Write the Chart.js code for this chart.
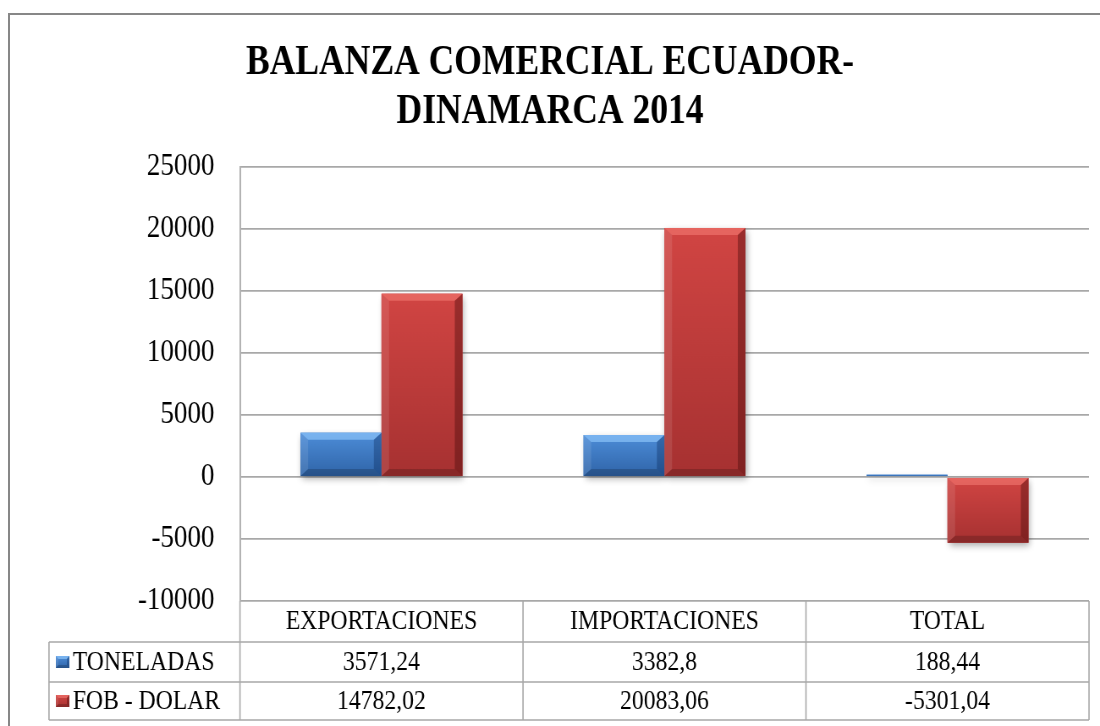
<!DOCTYPE html>
<html>
<head>
<meta charset="utf-8">
<script src="https://cdn.jsdelivr.net/npm/chart.js@4/dist/chart.umd.min.js"></script>
<style>
  html, body { margin: 0; padding: 0; background: #ffffff; overflow: hidden; width: 1100px; height: 726px; }
  #wrap { position: relative; width: 1100px; height: 726px; overflow: hidden; background: #ffffff; }
  #c { display: block; position: absolute; left: 0; top: 0; width: 1100px; height: 726px; }
  #frame { position: absolute; left: 8px; top: 13px; width: 1300px; height: 900px;
           border-top: 2px solid #878787; border-left: 2px solid #878787; pointer-events: none; }
</style>
</head>
<body>
<div id="wrap">
<canvas id="c" width="1300" height="726" style="width:1100px;height:726px;"></canvas>
<div id="frame"></div>
</div>
<script>
// ---- data ----
const titleLines = ['BALANZA COMERCIAL ECUADOR-', 'DINAMARCA 2014'];
const categories = ['EXPORTACIONES', 'IMPORTACIONES', 'TOTAL'];
const seriesNames = ['TONELADAS', 'FOB - DOLAR'];
const toneladas = [3571.24, 3382.8, 188.44];
const fobDolar = [14782.02, 20083.06, -5301.04];
const yMin = -10000;
const yMax = 25000;
const yStep = 5000;

// ---- styles ----
const serif = '"Liberation Serif", "Times New Roman", serif';
const gridColor = '#a8a8a8';
const palettes = [
  { base: '#3c78c2', top: '#4d8dd8', bottom: '#2f64a8', hi: 'rgba(150,205,255,0.6)', lo: 'rgba(10,40,90,0.35)' },
  { base: '#c0393b', top: '#d14543', bottom: '#a63131', hi: 'rgba(255,140,130,0.45)', lo: 'rgba(70,10,10,0.40)' }
];

function fmt(v) { return String(v).replace('.', ','); }

function drawBevelBox(ctx, L, T, R, B, pal, bx, by) {
  const g = ctx.createLinearGradient(0, T, 0, B);
  g.addColorStop(0, pal.top);
  g.addColorStop(1, pal.bottom);
  ctx.fillStyle = g;
  ctx.fillRect(L, T, R - L, B - T);
  const h = B - T, w = R - L;
  by = Math.min(by, h / 2.2);
  bx = Math.min(bx, w / 2.2);
  if (h < 3) return;
  ctx.fillStyle = pal.hi;
  ctx.beginPath();
  ctx.moveTo(L, T); ctx.lineTo(R, T); ctx.lineTo(R - bx, T + by); ctx.lineTo(L + bx, T + by); ctx.closePath(); ctx.fill();
  ctx.fillStyle = 'rgba(255,255,255,0.10)';
  ctx.beginPath();
  ctx.moveTo(L, T); ctx.lineTo(L + bx, T + by); ctx.lineTo(L + bx, B - by); ctx.lineTo(L, B); ctx.closePath(); ctx.fill();
  ctx.fillStyle = pal.lo;
  ctx.beginPath();
  ctx.moveTo(R, T); ctx.lineTo(R, B); ctx.lineTo(R - bx, B - by); ctx.lineTo(R - bx, T + by); ctx.closePath(); ctx.fill();
  ctx.fillStyle = 'rgba(0,0,0,0.18)';
  ctx.beginPath();
  ctx.moveTo(L, B); ctx.lineTo(R, B); ctx.lineTo(R - bx, B - by); ctx.lineTo(L + bx, B - by); ctx.closePath(); ctx.fill();
}

const deco = {
  id: 'deco',
  beforeDatasetDraw(chart) {
    const ctx = chart.ctx;
    ctx.save();
    ctx.shadowColor = 'rgba(0,0,0,0.35)';
    ctx.shadowBlur = 7;
    ctx.shadowOffsetX = 2;
    ctx.shadowOffsetY = 3;
  },
  afterDatasetDraw(chart) {
    chart.ctx.restore();
  },
  afterDatasetsDraw(chart) {
    const ctx = chart.ctx;
    ctx.save();
    chart.data.datasets.forEach((ds, di) => {
      const meta = chart.getDatasetMeta(di);
      meta.data.forEach((bar) => {
        const p = bar.getProps(['x', 'y', 'base', 'width'], true);
        const L = p.x - p.width / 2, R = p.x + p.width / 2;
        const T = Math.min(p.y, p.base), B = Math.max(p.y, p.base);
        drawBevelBox(ctx, L, T, R, B, palettes[di], 9, 7);
      });
    });
    ctx.restore();
  },
  afterDraw(chart) {
    const ctx = chart.ctx;
    const area = chart.chartArea;
    ctx.save();
    ctx.fillStyle = '#000000';
    ctx.font = 'bold 42px ' + serif;
    ctx.textAlign = 'center';
    ctx.textBaseline = 'alphabetic';
    ctx.fillText(titleLines[0], 650, 74);
    ctx.fillText(titleLines[1], 650, 123);

    const n = categories.length;
    const colW = (area.right - area.left) / n;
    const tableLeft = 57.9;
    const y0 = area.bottom, y1 = 642, y2 = 682, y3 = 720;
    ctx.strokeStyle = gridColor;
    ctx.lineWidth = 1.6;
    ctx.beginPath();
    [y1, y2, y3].forEach((y) => { ctx.moveTo(tableLeft, y); ctx.lineTo(area.right, y); });
    ctx.moveTo(tableLeft, y1); ctx.lineTo(tableLeft, y3);
    for (let i = 0; i <= n; i++) {
      const x = area.left + i * colW;
      ctx.moveTo(x, y0);
      ctx.lineTo(x, y3);
    }
    ctx.stroke();

    ctx.fillStyle = '#000000';
    ctx.font = '28px ' + serif;
    ctx.textAlign = 'center';
    const xs = chart.scales.x;
    categories.forEach((c, i) => {
      const cx = xs.getPixelForValue(i);
      ctx.fillText(c, cx, (y0 + y1) / 2 + 7);
      ctx.fillText(fmt(toneladas[i]), cx, (y1 + y2) / 2 + 8);
      ctx.fillText(fmt(fobDolar[i]), cx, (y2 + y3) / 2 + 8);
    });
    const rows = [(y1 + y2) / 2, (y2 + y3) / 2];
    rows.forEach((cy, i) => {
      drawBevelBox(ctx, 66, cy - 6, 82, cy + 6, palettes[i], 3, 3);
      ctx.fillStyle = '#000000';
      ctx.textAlign = 'left';
      ctx.fillText(seriesNames[i], 86, cy + 8);
    });
    ctx.restore();
  }
};

new Chart(document.getElementById('c'), {
  type: 'bar',
  data: {
    labels: categories,
    datasets: [
      { label: seriesNames[0], data: toneladas, backgroundColor: palettes[0].base, borderWidth: 0 },
      { label: seriesNames[1], data: fobDolar, backgroundColor: palettes[1].base, borderWidth: 0 }
    ]
  },
  options: {
    responsive: false,
    animation: false,
    devicePixelRatio: 1,
    categoryPercentage: 0.572,
    barPercentage: 1.0,
    layout: { padding: { left: 0, right: 13, top: 167, bottom: 125 } },
    plugins: {
      legend: { display: false },
      title: { display: false },
      tooltip: { enabled: false }
    },
    scales: {
      x: { display: false, offset: true },
      y: {
        min: yMin,
        max: yMax,
        afterFit(scale) { scale.width = 283.6; },
        ticks: {
          stepSize: yStep,
          padding: 30,
          color: '#000000',
          font: { family: serif, size: 32 },
          callback: (v) => String(v)
        },
        grid: { color: gridColor, lineWidth: 1.8, drawTicks: false, tickLength: 0 },
        border: { display: true, color: gridColor, width: 1.8 }
      }
    }
  },
  plugins: [deco]
});
</script>
</body>
</html>
